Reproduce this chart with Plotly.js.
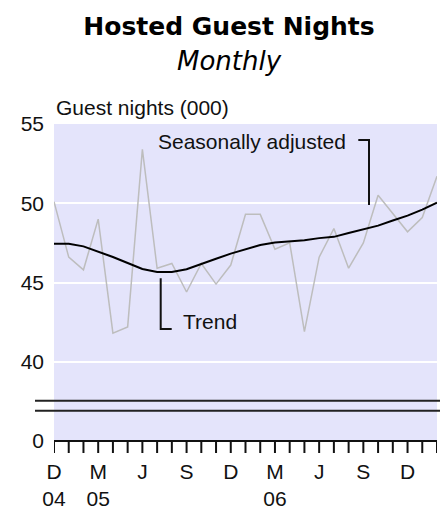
<!DOCTYPE html>
<html>
<head>
<meta charset="utf-8">
<script src="https://cdn.plot.ly/plotly-3.0.1.min.js"></script>
<style>
html,body{margin:0;padding:0;background:#fff;}
#chart{width:440px;height:508px;}
</style>
</head>
<body>
<div id="chart"></div>
<script>
// Months Dec 2004 .. Feb 2007
var months = ['Dec 2004','Jan 2005','Feb 2005','Mar 2005','Apr 2005','May 2005','Jun 2005','Jul 2005','Aug 2005','Sep 2005','Oct 2005','Nov 2005','Dec 2005',
              'Jan 2006','Feb 2006','Mar 2006','Apr 2006','May 2006','Jun 2006','Jul 2006','Aug 2006','Sep 2006','Oct 2006','Nov 2006','Dec 2006',
              'Jan 2007','Feb 2007'];
var seasonallyAdjusted = [50.1, 46.6, 45.8, 49.0, 41.8, 42.2, 53.4, 45.9, 46.2, 44.4, 46.2, 44.9, 46.1,
                          49.3, 49.3, 47.1, 47.5, 41.9, 46.6, 48.4, 45.9, 47.5, 50.5, 49.35, 48.2,
                          49.1, 51.7];
var trend = [47.45, 47.45, 47.28, 46.97, 46.61, 46.23, 45.85, 45.66, 45.66, 45.84, 46.19, 46.5, 46.82,
             47.1, 47.36, 47.52, 47.6, 47.67, 47.8, 47.88, 48.12, 48.34, 48.59, 48.91, 49.22,
             49.6, 50.03];
var xTickText = ['D<br>04','','','M<br>05','','','J','','','S','','','D',
                 '','','M<br>06','','','J','','','S','','','D',
                 '',''];
var yTickVals = [35, 40, 45, 50, 55];
var yTickText = ['0', '40', '45', '50', '55'];

var idx = months.map(function (m, i) { return i; });

function tf() { return {family: 'Liberation Sans, Arial, sans-serif', size: 21, color: '#111111'}; }

// geometry helpers (pixels -> paper units)
var L = 54, W = 383, B = 454, H = 330;
function px(X) { return (X - L) / W; }
function py(Y) { return (B - Y) / H; }
var PXU = 15.85;                      // pixels per y unit
var XPU = W / (idx.length - 1);       // pixels per month
var yBase = 35;                       // axis baseline value (labelled "0")
var yMin = yBase - 13 / PXU;          // room under the baseline for tick marks
var tickEnd = yBase - 12 / PXU;

var traces = [
  {x: idx, y: seasonallyAdjusted, text: months, type: 'scatter', mode: 'lines',
   line: {color: '#bdbdbd', width: 1.5}, hoverinfo: 'skip'},
  {x: idx, y: trend, text: months, type: 'scatter', mode: 'lines',
   line: {color: '#000000', width: 2}, hoverinfo: 'skip'}
];

var shapes = [
  // lavender panel
  {type: 'rect', xref: 'paper', yref: 'y', x0: 0, x1: 1, y0: yBase, y1: 55,
   fillcolor: '#e4e4fb', line: {width: 0}, layer: 'below'},
  // x-axis baseline (filled bar, 2px)
  {type: 'rect', xref: 'paper', yref: 'y', x0: 0, x1: 1,
   y0: yBase - 1 / PXU, y1: yBase + 1 / PXU, fillcolor: '#111111', line: {width: 0}}
];
// monthly tick marks (filled bars, 2px wide)
idx.forEach(function (i) {
  shapes.push({type: 'rect', xref: 'x', yref: 'y', x0: i - 1 / XPU, x1: i + 1 / XPU,
               y0: tickEnd, y1: yBase, fillcolor: '#111111', line: {width: 0}});
});
shapes.push(
  {type: 'path', xref: 'paper', yref: 'paper',
   path: 'M ' + px(358.3) + ' ' + py(140) + ' L ' + px(369) + ' ' + py(140) + ' L ' + px(369) + ' ' + py(205),
   line: {color: '#111111', width: 2}},
  {type: 'path', xref: 'paper', yref: 'paper',
   path: 'M ' + px(160.7) + ' ' + py(278.3) + ' L ' + px(160.7) + ' ' + py(329) + ' L ' + px(171.7) + ' ' + py(329),
   line: {color: '#111111', width: 2}},
  {type: 'line', xref: 'paper', yref: 'paper', x0: px(35), x1: 1.02,
   y0: py(400.7), y1: py(400.7), line: {color: '#222222', width: 2}},
  {type: 'line', xref: 'paper', yref: 'paper', x0: px(35), x1: 1.02,
   y0: py(410.7), y1: py(410.7), line: {color: '#222222', width: 2}}
);

var layout = {
  width: 440, height: 508,
  margin: {l: 54, r: 3, t: 124, b: 54},
  paper_bgcolor: '#ffffff',
  plot_bgcolor: 'rgba(0,0,0,0)',
  showlegend: false,
  title: {
    text: 'Hosted Guest Nights',
    font: {family: 'DejaVu Sans', size: 25, weight: 'bold', color: '#000000'},
    x: 229/440, xanchor: 'center', xref: 'container',
    y: 1 - 26/508, yanchor: 'middle', yref: 'container'
  },
  xaxis: {
    type: 'linear',
    range: [0, months.length - 1],
    tickmode: 'array', tickvals: idx, ticktext: xTickText,
    ticks: '', ticklabelstandoff: 3,
    showline: false, showgrid: false, zeroline: false,
    tickfont: tf(), tickangle: 0, fixedrange: true
  },
  yaxis: {
    range: [yMin, 55],
    tickmode: 'array', tickvals: yTickVals, ticktext: yTickText,
    ticks: '', ticklabelstandoff: 9,
    showline: false, showgrid: true, gridcolor: '#ffffff', gridwidth: 2,
    zeroline: false, tickfont: tf(), fixedrange: true
  },
  annotations: [
    {text: 'Monthly', xref: 'paper', yref: 'paper', x: px(229), y: py(61),
     xanchor: 'center', yanchor: 'middle', showarrow: false,
     font: {family: 'DejaVu Sans', size: 26, style: 'italic', color: '#000000'}},
    {text: 'Guest nights (000)', xref: 'paper', yref: 'paper', x: 0, y: py(108),
     xanchor: 'left', yanchor: 'middle', showarrow: false, font: tf()},
    {text: 'Seasonally adjusted', xref: 'paper', yref: 'paper', x: px(348), y: py(141.7),
     xanchor: 'right', yanchor: 'middle', showarrow: false, font: tf()},
    {text: 'Trend', xref: 'paper', yref: 'paper', x: px(181), y: py(321.7),
     xanchor: 'left', yanchor: 'middle', showarrow: false, font: tf()}
  ],
  shapes: shapes
};

Plotly.newPlot('chart', traces, layout, {displayModeBar: false});
</script>
</body>
</html>
